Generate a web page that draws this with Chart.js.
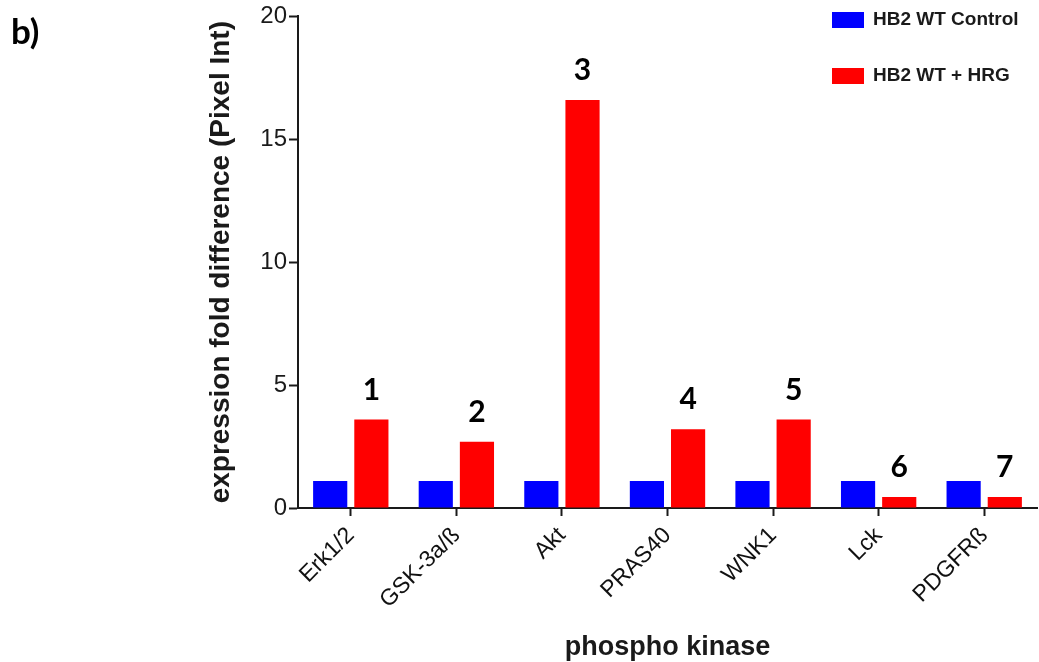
<!DOCTYPE html>
<html>
<head>
<meta charset="utf-8">
<script src="https://cdn.jsdelivr.net/npm/chart.js@4.4.1/dist/chart.umd.min.js"></script>
<style>
  html, body { margin: 0; padding: 0; background: #fff; }
  canvas { display: block; }
</style>
</head>
<body>
<canvas id="c" width="1039" height="662"></canvas>
<script>
// Phospho-kinase array: fold difference, control vs HRG-treated HB2 WT cells
const kinases = ['Erk1/2', 'GSK-3a/ß', 'Akt', 'PRAS40', 'WNK1', 'Lck', 'PDGFRß'];
const controlValues = [1.1, 1.1, 1.1, 1.1, 1.1, 1.1, 1.1];
const hrgValues = [3.6, 2.7, 16.6, 3.2, 3.6, 0.45, 0.45];
const spotNumbers = ['1', '2', '3', '4', '5', '6', '7'];
const yTicks = [0, 5, 10, 15, 20];
const seriesNames = ['HB2 WT Control', 'HB2 WT + HRG'];
const seriesColors = ['#0000FF', '#FF0000'];
const panelLetter = 'b)';
const xTitle = 'phospho kinase';
const yTitle = 'expression fold difference (Pixel Int)';

const SANS = '"Liberation Sans", Arial, sans-serif';
const CALLOUT = 'Lato, "Open Sans", sans-serif';
Chart.defaults.font.family = SANS;
Chart.defaults.color = '#1a1a1a';

// Numbers written above each HRG bar
const spotNumberPlugin = {
  id: 'spotNumbers',
  afterDatasetsDraw(chart) {
    const meta = chart.getDatasetMeta(1);
    const ctx = chart.ctx;
    ctx.save();
    ctx.font = 'bold 30px ' + CALLOUT;
    ctx.fillStyle = '#000';
    ctx.textAlign = 'center';
    ctx.textBaseline = 'alphabetic';
    meta.data.forEach((bar, i) => {
      ctx.fillText(spotNumbers[i], bar.x, bar.y - 20);
    });
    ctx.restore();
  }
};

// Series key in the upper right, stacked with wide spacing
const keyPlugin = {
  id: 'seriesKey',
  afterDraw(chart) {
    const ctx = chart.ctx;
    ctx.save();
    chart.data.datasets.forEach((ds, i) => {
      const y = 12 + i * 56;
      ctx.fillStyle = ds.backgroundColor;
      ctx.fillRect(832, y, 32, 16);
      ctx.fillStyle = '#1a1a1a';
      ctx.font = 'bold 19px ' + SANS;
      ctx.textAlign = 'left';
      ctx.textBaseline = 'middle';
      ctx.fillText(ds.label, 873, y + 8);
    });
    ctx.restore();
  }
};

// Panel letter in the top-left corner
const panelPlugin = {
  id: 'panelLetter',
  afterDraw(chart) {
    const ctx = chart.ctx;
    ctx.save();
    ctx.font = 'bold 35px ' + CALLOUT;
    ctx.fillStyle = '#000';
    ctx.textAlign = 'left';
    ctx.textBaseline = 'alphabetic';
    ctx.fillText(panelLetter, 11, 44);
    ctx.restore();
  }
};

new Chart(document.getElementById('c'), {
  type: 'bar',
  data: {
    labels: kinases,
    datasets: [
      { label: seriesNames[0], data: controlValues, backgroundColor: seriesColors[0] },
      { label: seriesNames[1], data: hrgValues, backgroundColor: seriesColors[1] }
    ]
  },
  options: {
    responsive: false,
    animation: false,
    events: [],
    categoryPercentage: 0.78,
    barPercentage: 0.83,
    layout: { padding: { left: 200, top: 16, right: 2, bottom: 0 } },
    plugins: {
      legend: { display: false },
      tooltip: { enabled: false }
    },
    scales: {
      x: {
        grid: {
          offset: false,
          drawOnChartArea: false,
          drawTicks: true,
          tickLength: 8,
          tickWidth: 2,
          tickColor: '#1a1a1a'
        },
        border: { color: '#1a1a1a', width: 2 },
        ticks: {
          font: { size: 23 },
          color: '#111',
          minRotation: 45,
          maxRotation: 45,
          padding: 6
        },
        title: {
          display: true,
          text: xTitle,
          font: { size: 27, weight: 'bold' },
          color: '#1a1a1a',
          padding: { top: 0, bottom: -2 }
        },
        afterFit(scale) { scale.height = 154; }
      },
      y: {
        min: 0,
        max: 20,
        afterBuildTicks(scale) { scale.ticks = yTicks.map(v => ({ value: v })); },
        grid: {
          drawOnChartArea: false,
          drawTicks: true,
          tickLength: 9,
          tickWidth: 2,
          tickColor: '#1a1a1a'
        },
        border: { color: '#1a1a1a', width: 2 },
        ticks: {
          font: { size: 24 },
          color: '#1a1a1a',
          padding: 2
        },
        title: {
          display: true,
          text: yTitle,
          font: { size: 28, weight: 'bold' },
          color: '#1a1a1a',
          padding: { top: 4, bottom: 4 }
        },
        afterFit(scale) { scale.width = 98; }
      }
    }
  },
  plugins: [spotNumberPlugin, keyPlugin, panelPlugin]
});
</script>
</body>
</html>
